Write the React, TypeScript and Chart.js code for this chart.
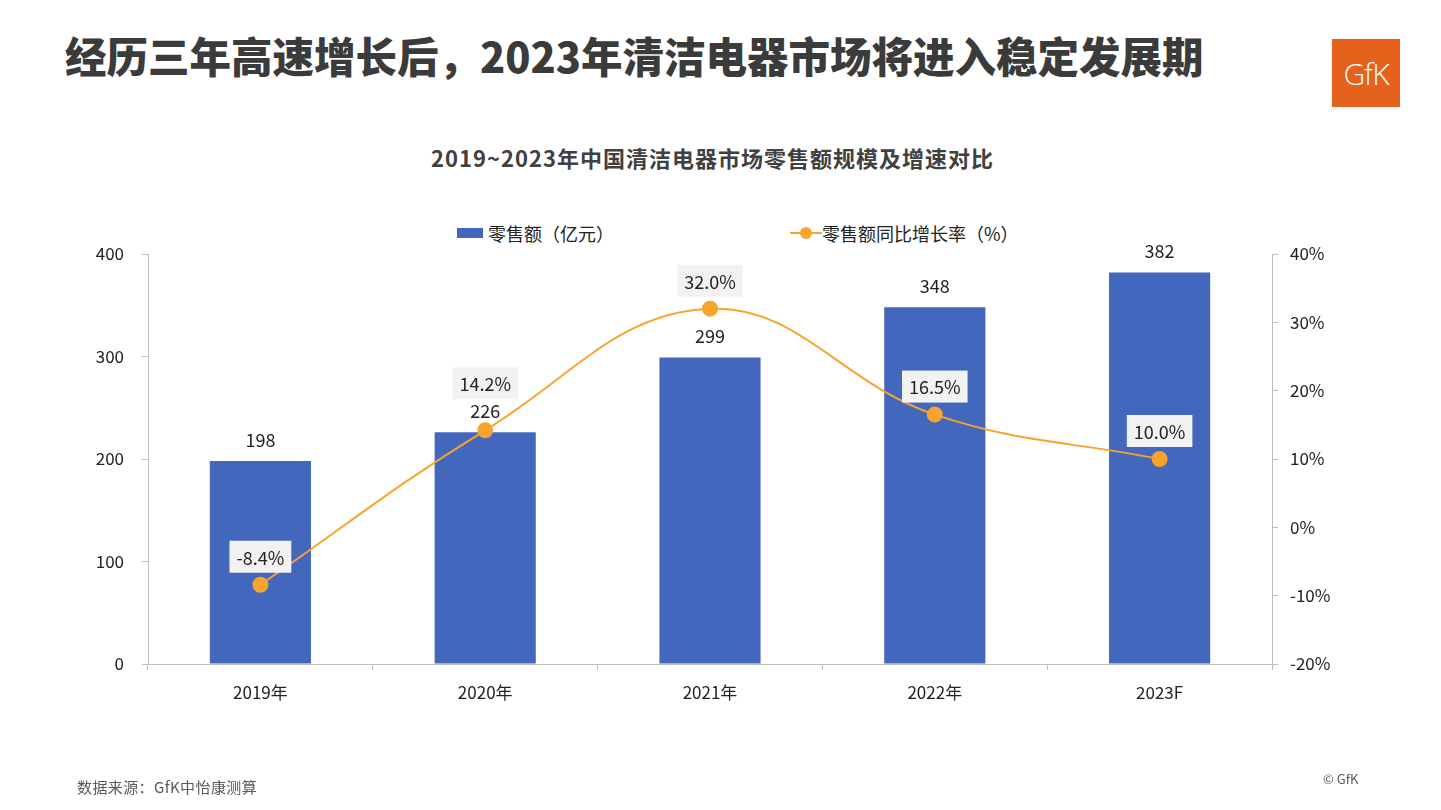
import React, { useEffect, useRef } from "react";
import { Chart, registerables } from "chart.js";

Chart.register(...registerables);

const categories = ["2019年", "2020年", "2021年", "2022年", "2023F"];
const salesValues = [198, 226, 299, 348, 382];
const growthValues = [-8.4, 14.2, 32.0, 16.5, 10.0];
const leftAxisRange = [0, 400];
const rightAxisRange = [-20, 40];

const FONT = '"Noto Sans CJK SC", "Noto Sans", sans-serif';
const BAR_COLOR = "#4467BE";
const LINE_COLOR = "#F8A32C";
const TEXT = "#222222";
const AXIS = "#BFBFBF";

const labelPlugin = {
  id: "valueLabels",
  afterDatasetsDraw(chart: any) {
    const ctx = chart.ctx as CanvasRenderingContext2D;
    const barMeta = chart.getDatasetMeta(0);
    const lineMeta = chart.getDatasetMeta(1);
    ctx.save();
    ctx.font = `18px ${FONT}`;
    ctx.textAlign = "center";
    ctx.textBaseline = "middle";
    const barBoxes: { top: number; bottom: number }[] = [];
    barMeta.data.forEach((bar: any, i: number) => {
      const y = bar.y - 21;
      ctx.fillStyle = TEXT;
      ctx.fillText(String(salesValues[i]), bar.x, y);
      barBoxes.push({ top: y - 10, bottom: y + 10 });
    });
    lineMeta.data.forEach((pt: any, i: number) => {
      const text = growthValues[i].toFixed(1) + "%";
      const w = ctx.measureText(text).width + 14;
      const h = 32;
      let cy = pt.y - 28;
      const b = barBoxes[i];
      if (cy + h / 2 > b.top && cy - h / 2 < b.bottom) cy = b.top - 2 - h / 2;
      ctx.fillStyle = "#F2F2F2";
      ctx.fillRect(pt.x - w / 2, cy - h / 2, w, h);
      ctx.fillStyle = TEXT;
      ctx.fillText(text, pt.x, cy + 1);
    });
    ctx.restore();
  },
};

export default function App() {
  const canvasRef = useRef<HTMLCanvasElement | null>(null);

  useEffect(() => {
    if (!canvasRef.current) return;
    const tickFont = { family: FONT, size: 17 };
    const chart = new Chart(canvasRef.current, {
      type: "bar",
      data: {
        labels: categories,
        datasets: [
          {
            type: "bar",
            label: "零售额（亿元）",
            data: salesValues,
            backgroundColor: BAR_COLOR,
            yAxisID: "y",
            order: 2,
            barPercentage: 0.45,
            categoryPercentage: 1,
          },
          {
            type: "line",
            label: "零售额同比增长率（%）",
            data: growthValues,
            borderColor: LINE_COLOR,
            backgroundColor: LINE_COLOR,
            pointBackgroundColor: LINE_COLOR,
            pointBorderColor: LINE_COLOR,
            pointRadius: 7,
            borderWidth: 2,
            tension: 0.4,
            yAxisID: "y1",
            order: 1,
          } as any,
        ],
      },
      options: {
        animation: false,
        responsive: false,
        maintainAspectRatio: false,
        layout: { padding: { top: 254, left: 0, right: 0, bottom: 0 } },
        plugins: { legend: { display: false }, tooltip: { enabled: false } },
        scales: {
          x: {
            grid: { display: true, drawOnChartArea: false, drawTicks: true, tickLength: 6, color: AXIS, offset: true },
            border: { color: AXIS },
            ticks: { color: TEXT, font: tickFont, padding: 12 },
            afterFit: (s: any) => { s.height = 146; },
          },
          y: {
            position: "left",
            min: leftAxisRange[0],
            max: leftAxisRange[1],
            ticks: { stepSize: 100, color: TEXT, font: tickFont, padding: 18 },
            grid: { drawOnChartArea: false, tickLength: 6, color: AXIS },
            border: { color: AXIS },
            afterFit: (s: any) => { s.width = 148; },
          },
          y1: {
            position: "right",
            min: rightAxisRange[0],
            max: rightAxisRange[1],
            ticks: { stepSize: 10, color: TEXT, font: tickFont, padding: 12, callback: (v: any) => v + "%" },
            grid: { drawOnChartArea: false, tickLength: 6, color: AXIS },
            border: { color: AXIS },
            afterFit: (s: any) => { s.width = 169; },
          },
        } as any,
      },
      plugins: [labelPlugin],
    });
    return () => chart.destroy();
  }, []);

  return (
    <div style={{ position: "absolute", left: 0, top: 0, width: 1441, height: 810, background: "#fff", fontFamily: FONT, overflow: "hidden" }}>
      <div style={{ position: "absolute", left: 65, top: 27, fontSize: 41.5, fontWeight: 900, color: "#3b3b3b", lineHeight: "56px", whiteSpace: "nowrap", letterSpacing: 0 }}>
        经历三年高速增长后，2023年清洁电器市场将进入稳定发展期
      </div>
      <div style={{ position: "absolute", left: 1332, top: 39, width: 68, height: 68, background: "#E5611C", color: "#fff", fontFamily: '"Open Sans", sans-serif', fontSize: 30, fontWeight: 300, display: "flex", alignItems: "center", justifyContent: "center", letterSpacing: -1 }}>
        GfK
      </div>
      <div style={{ position: "absolute", left: 0, width: 1425, top: 142, textAlign: "center", fontSize: 22, fontWeight: 700, color: "#404040", lineHeight: "30px", whiteSpace: "nowrap", letterSpacing: 1 }}>
        2019~2023年中国清洁电器市场零售额规模及增速对比
      </div>
      <div style={{ position: "absolute", left: 457, top: 228, width: 26, height: 10, background: BAR_COLOR }} />
      <div style={{ position: "absolute", left: 488, top: 220, fontSize: 18, color: TEXT, lineHeight: "26px", whiteSpace: "nowrap" }}>
        零售额（亿元）
      </div>
      <div style={{ position: "absolute", left: 790, top: 232, width: 32, height: 2, background: LINE_COLOR }} />
      <div style={{ position: "absolute", left: 800, top: 227, width: 12, height: 12, borderRadius: 6, background: LINE_COLOR }} />
      <div style={{ position: "absolute", left: 822, top: 220, fontSize: 18, color: TEXT, lineHeight: "26px", whiteSpace: "nowrap" }}>
        零售额同比增长率（%）
      </div>
      <canvas ref={canvasRef} width={1441} height={810} style={{ position: "absolute", left: 0, top: 0, width: 1441, height: 810, display: "block" }} />
      <div style={{ position: "absolute", left: 77, top: 777, fontSize: 15, color: "#595959", lineHeight: "20px", whiteSpace: "nowrap", letterSpacing: 0.4 }}>
        数据来源：GfK中怡康测算
      </div>
      <div style={{ position: "absolute", left: 1323, top: 770, fontSize: 13, color: "#595959", lineHeight: "18px", whiteSpace: "nowrap" }}>
        © GfK
      </div>
    </div>
  );
}
